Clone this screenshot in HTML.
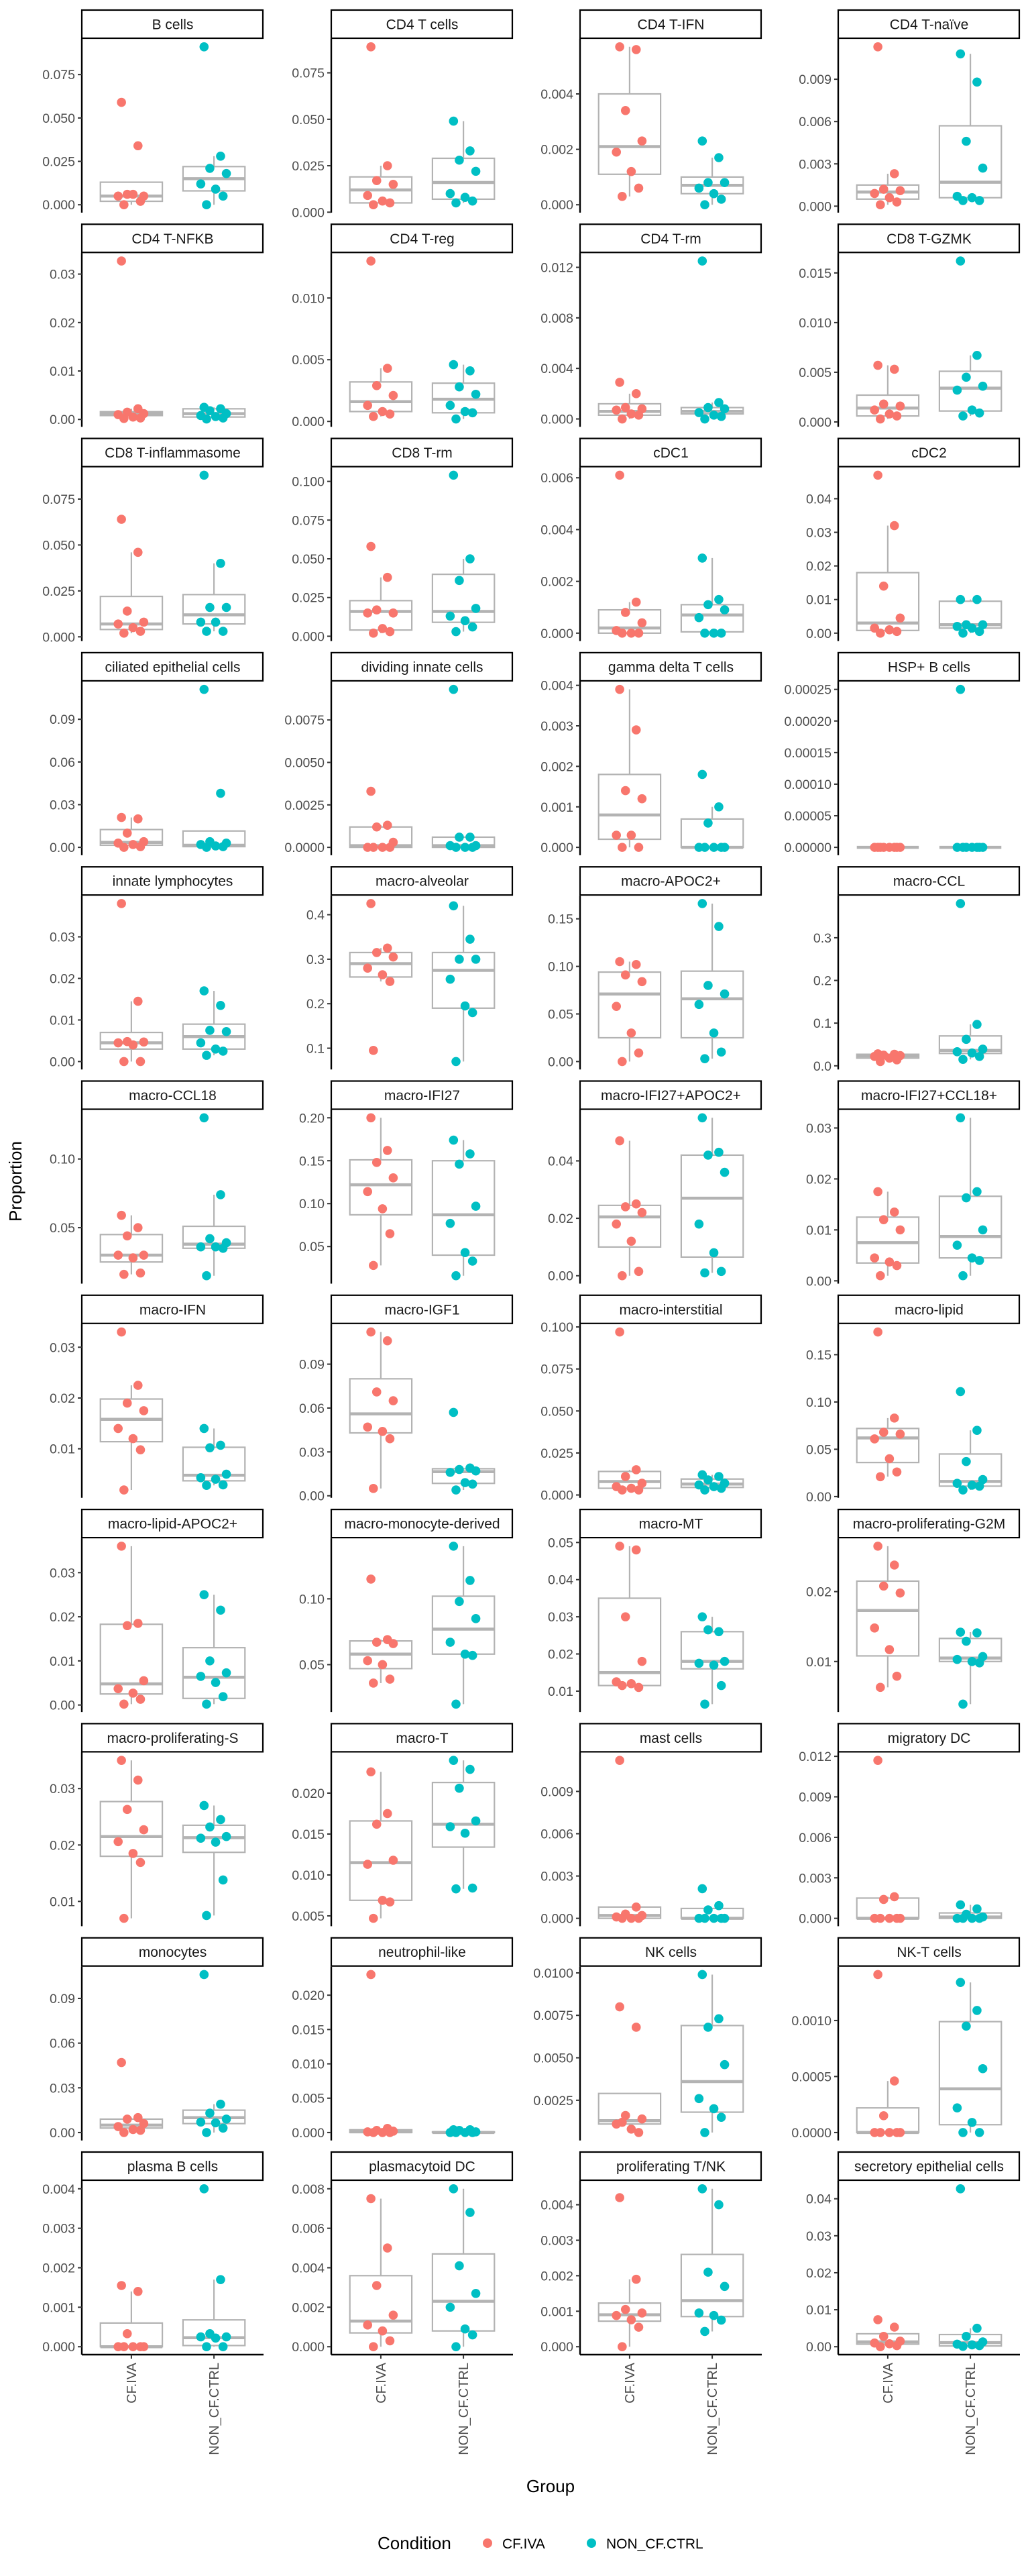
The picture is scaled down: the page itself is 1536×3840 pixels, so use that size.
<!DOCTYPE html>
<html><head><meta charset="utf-8">
<style>
html,body{margin:0;padding:0;background:#fff;}
svg{display:block;font-family:"Liberation Sans",Arial,sans-serif;}
</style></head>
<body>
<svg id="chart" width="1536" height="3840" viewBox="0 0 1536 3840" xmlns="http://www.w3.org/2000/svg">
<rect width="1536" height="3840" fill="#fff"/>
<g id="panels"></g>
<text x="0" y="0" transform="translate(32,1761) rotate(-90)" text-anchor="middle" font-size="26" fill="#000">Proportion</text>
<text x="821" y="3715" text-anchor="middle" font-size="26" fill="#000">Group</text>
<g>
<text x="563" y="3800" font-size="26" fill="#000">Condition</text>
<circle cx="727" cy="3791" r="7" fill="#F8766D"/>
<text x="749" y="3799" font-size="21" fill="#000">CF.IVA</text>
<circle cx="882" cy="3791" r="7" fill="#00BFC4"/>
<text x="904" y="3799" font-size="21" fill="#000">NON_CF.CTRL</text>
</g>
</svg>
<script>
const panelNames = ["B cells","CD4 T cells","CD4 T-IFN","CD4 T-naïve","CD4 T-NFKB","CD4 T-reg","CD4 T-rm","CD8 T-GZMK","CD8 T-inflammasome","CD8 T-rm","cDC1","cDC2","ciliated epithelial cells","dividing innate cells","gamma delta T cells","HSP+ B cells","innate lymphocytes","macro-alveolar","macro-APOC2+","macro-CCL","macro-CCL18","macro-IFI27","macro-IFI27+APOC2+","macro-IFI27+CCL18+","macro-IFN","macro-IGF1","macro-interstitial","macro-lipid","macro-lipid-APOC2+","macro-monocyte-derived","macro-MT","macro-proliferating-G2M","macro-proliferating-S","macro-T","mast cells","migratory DC","monocytes","neutrophil-like","NK cells","NK-T cells","plasma B cells","plasmacytoid DC","proliferating T/NK","secretory epithelial cells"];
const groups = ["CF.IVA","NON_CF.CTRL"];
const tickValues = [
[0,.025,.05,.075],[0,.025,.05,.075],[0,.002,.004],[0,.003,.006,.009],
[0,.01,.02,.03],[0,.005,.010],[0,.004,.008,.012],[0,.005,.010,.015],
[0,.025,.05,.075],[0,.025,.05,.075,.1],[0,.002,.004,.006],[0,.01,.02,.03,.04],
[0,.03,.06,.09],[0,.0025,.005,.0075],[0,.001,.002,.003,.004],[0,.00005,.0001,.00015,.0002,.00025],
[0,.01,.02,.03],[.1,.2,.3,.4],[0,.05,.1,.15],[0,.1,.2,.3],
[.05,.10],[.05,.10,.15,.20],[0,.02,.04],[0,.01,.02,.03],
[.01,.02,.03],[0,.03,.06,.09],[0,.025,.05,.075,.1],[0,.05,.1,.15],
[0,.01,.02,.03],[.05,.10],[.01,.02,.03,.04,.05],[.01,.02],
[.01,.02,.03],[.005,.010,.015,.020],[0,.003,.006,.009],[0,.003,.006,.009,.012],
[0,.03,.06,.09],[0,.005,.01,.015,.02],[.0025,.005,.0075,.01],[0,.0005,.001],
[0,.001,.002,.003,.004],[0,.002,.004,.006,.008],[0,.001,.002,.003,.004],[0,.01,.02,.03,.04]];
const tickDecimals = [3,3,3,3, 2,3,3,3, 3,3,3,2, 2,4,3,5, 2,1,2,1, 2,2,2,2, 2,2,3,2, 2,2,2,2, 2,3,3,3, 2,3,4,4, 3,3,3,2];
const cfValues = [
[.059,.034,.006,.005,.005,.006,.002,0],
[.089,.025,.017,.015,.009,.006,.005,.004],
[.0057,.0056,.0034,.0023,.0019,.0012,.0006,.0003],
[.0113,.0023,.0012,.0011,.0009,.0006,.0003,.0001],
[.0327,.0022,.0015,.0012,.0010,.0005,.0003,.0002],
[.013,.0043,.0029,.0021,.0013,.0008,.0006,.0004],
[.0029,.0020,.0009,.0008,.0007,.0004,.0003,0],
[.0057,.0053,.0018,.0016,.0012,.0008,.0006,.0003],
[.064,.046,.014,.008,.007,.005,.003,.002],
[.058,.038,.017,.015,.015,.005,.003,.002],
[.0061,.0012,.0008,.0004,.0001,0,0,0],
[.047,.032,.014,.0045,.0015,.001,.0005,0],
[.021,.020,.010,.004,.003,.002,.0005,0],
[.0033,.0013,.0012,.0003,0,0,0,0],
[.0039,.0029,.0014,.0012,.0003,.0003,0,0],
[0,0,0,0,0,0,0,0],
[.038,.0145,.0048,.0047,.0045,.004,0,0],
[.425,.325,.315,.305,.28,.265,.25,.095],
[.105,.102,.091,.084,.058,.030,.009,0],
[.028,.027,.025,.024,.022,.018,.014,.010],
[.059,.050,.044,.030,.030,.028,.017,.016],
[.200,.162,.148,.130,.114,.094,.065,.028],
[.047,.025,.024,.022,.018,.012,.0015,0],
[.0175,.0135,.012,.010,.0045,.0037,.003,.001],
[.033,.0225,.019,.0175,.014,.012,.0098,.0019],
[.112,.106,.071,.065,.047,.044,.039,.005],
[.097,.015,.011,.007,.005,.004,.003,.003],
[.174,.083,.068,.066,.061,.040,.026,.021],
[.036,.0185,.018,.0055,.0037,.0027,.0013,.0002],
[.115,.069,.067,.066,.053,.050,.039,.036],
[.049,.048,.030,.018,.0125,.012,.011,.0115],
[.0265,.0238,.0208,.0198,.0148,.0117,.0079,.0063],
[.035,.0315,.0263,.0227,.0206,.0185,.0169,.007],
[.0226,.0175,.0162,.0118,.0113,.0069,.0067,.0047],
[.0112,.0008,.0003,.0002,.0001,0,0,0],
[.0117,.0016,.0014,0,0,0,0,0],
[.047,.010,.009,.006,.004,.002,.0015,0],
[.023,.0006,.0003,.0002,.0001,0,0,0],
[.0080,.0068,.0016,.0014,.0011,.0008,.0006,.0012],
[.00141,.00046,.00015,0,0,0,0,0],
[.00155,.0014,.00033,0,0,0,0,0],
[.0075,.0050,.0031,.0016,.0011,.0008,.0003,0],
[.0042,.0019,.00105,.00095,.00088,.00076,.00055,0],
[.0073,.0053,.0028,.0015,.001,.0008,.0003,0]];
const ctrlValues = [
[.091,.028,.021,.018,.012,.009,.005,0],
[.049,.033,.028,.022,.010,.008,.006,.005],
[.0023,.0017,.0008,.0008,.0006,.0004,.0002,0],
[.0108,.0088,.0046,.0027,.0007,.0006,.0004,.0004],
[.0025,.0022,.0018,.0012,.0008,.0006,.0003,.0001],
[.0046,.0041,.0028,.0022,.0013,.0008,.0007,.0002],
[.0125,.0013,.0009,.0008,.0005,.0003,.0002,0],
[.0162,.0067,.0045,.0036,.0032,.0012,.0009,.0006],
[.088,.040,.016,.016,.008,.008,.003,.003],
[.104,.050,.036,.018,.013,.010,.006,.003],
[.0029,.0013,.0011,.0009,.0006,0,0,0],
[.010,.010,.0025,.0025,.002,.0015,.0005,0],
[.111,.038,.004,.003,.002,.001,.0005,0],
[.0093,.0006,.0006,.0001,.0001,0,0,0],
[.0018,.0010,.0006,0,0,0,0,0],
[.00025,0,0,0,0,0,0,0],
[.017,.0135,.0075,.0072,.0045,.003,.0025,.0015],
[.42,.345,.30,.30,.255,.195,.18,.07],
[.166,.142,.080,.071,.060,.030,.010,.003],
[.38,.097,.062,.039,.033,.030,.022,.015],
[.13,.074,.042,.039,.036,.036,.035,.015],
[.174,.158,.146,.097,.077,.043,.033,.016],
[.055,.043,.042,.036,.018,.008,.0015,.001],
[.032,.0175,.0163,.010,.007,.0045,.004,.001],
[.014,.0107,.0102,.005,.0043,.004,.0029,.0028],
[.057,.019,.018,.017,.016,.009,.008,.004],
[.012,.011,.009,.007,.006,.005,.004,.003],
[.111,.070,.037,.018,.014,.012,.011,.007],
[.025,.0215,.010,.0073,.0065,.0051,.0019,.0002],
[.140,.114,.098,.085,.067,.058,.057,.020],
[.030,.026,.0265,.018,.0175,.017,.0115,.0065],
[.0142,.0141,.0129,.0107,.0103,.0100,.0098,.0039],
[.027,.0245,.0232,.0215,.0212,.0205,.0138,.0075],
[.024,.0229,.0206,.0166,.0159,.0151,.0084,.0083],
[.0021,.0009,.0006,0,0,0,0,0],
[.001,.0007,.0003,.0001,0,0,0,0],
[.106,.019,.013,.009,.007,.0065,.003,0],
[.0004,.0004,.0003,.0001,0,0,0,0],
[.0099,.0073,.0068,.0046,.0026,.0020,.0015,.0006],
[.00134,.00109,.00095,.00057,.00022,.00009,0,0],
[.004,.0017,.00033,.00025,.00025,.00022,0,0],
[.0080,.0068,.0041,.0027,.0020,.0009,.0006,0],
[.00445,.004,.0021,.0017,.00095,.00088,.00075,.00043],
[.0427,.005,.0028,.0013,.0007,.0005,.0003,.0001]];
// box stats: [whisker low, q1, median, q3, whisker high]
const cfBox = [
[0,.002,.005,.013,.013],[.004,.005,.012,.019,.025],[.0003,.0011,.0021,.0040,.0057],[.0001,.0005,.0010,.0015,.0023],
[.0002,.0008,.0012,.0016,.0022],[.0004,.0008,.0016,.0032,.0043],[0,.0003,.0006,.0012,.0020],[.0003,.0006,.0014,.0027,.0057],
[.002,.004,.007,.022,.046],[.002,.004,.016,.023,.038],[0,0,.0002,.0009,.0012],[0,.0008,.003,.018,.032],
[0,.0015,.0035,.0125,.021],[0,0,.0001,.0012,.0013],[0,.0002,.0008,.0018,.0039],[0,0,0,0,0],
[0,.003,.0045,.007,.0145],[.25,.26,.29,.315,.325],[0,.025,.071,.094,.105],[.010,.018,.023,.027,.028],
[.016,.025,.030,.045,.059],[.028,.087,.122,.151,.200],[0,.010,.0205,.0245,.047],[.001,.0035,.0075,.0125,.0175],
[.0019,.0114,.0158,.0198,.0225],[.005,.043,.056,.080,.112],[.003,.004,.008,.014,.015],[.021,.036,.062,.072,.083],
[.0002,.0025,.0048,.0183,.036],[.036,.047,.058,.068,.069],[.011,.0115,.015,.035,.049],[.0063,.0108,.0173,.0215,.0265],
[.007,.018,.0215,.0277,.035],[.0047,.0069,.0115,.0166,.0226],[0,0,.0002,.0008,.0008],[0,0,0,.0015,.0016],
[0,.003,.005,.009,.010],[0,0,.0001,.0004,.0006],[.0006,.0011,.0013,.0029,.0029],[0,0,0,.00022,.00046],
[0,0,0,.0006,.0014],[0,.0007,.0013,.0036,.0075],[0,.00072,.0009,.00123,.0019],[0,.0007,.0013,.0035,.0035]];
const ctrlBox = [
[0,.008,.015,.022,.028],[.005,.007,.016,.029,.049],[0,.0004,.0007,.0010,.0017],[.0004,.0006,.0017,.0057,.0108],
[.0001,.0005,.0012,.0022,.0025],[.0002,.0007,.0018,.0031,.0046],[0,.0004,.0006,.0009,.0013],[.0006,.0011,.0034,.0051,.0067],
[.003,.007,.012,.023,.040],[.003,.009,.016,.040,.050],[0,.00005,.0007,.0011,.0029],[0,.0015,.0025,.0095,.010],
[0,.0005,.0015,.0115,.0115],[0,0,.0001,.0006,.0006],[0,0,0,.0007,.0010],[0,0,0,0,0],
[.0015,.003,.006,.009,.017],[.07,.19,.275,.315,.42],[.003,.025,.066,.095,.166],[.015,.029,.036,.070,.097],
[.015,.035,.038,.051,.074],[.016,.040,.087,.150,.174],[.001,.0065,.027,.042,.055],[.001,.0045,.0087,.0166,.032],
[.0028,.0037,.0048,.0103,.014],[.004,.0085,.0165,.0185,.019],[.003,.0045,.0065,.0095,.012],[.007,.011,.016,.045,.070],
[.0002,.0015,.0063,.013,.025],[.020,.058,.077,.102,.140],[.0065,.016,.018,.026,.030],[.0039,.0100,.0105,.0133,.0142],
[.0075,.0187,.0213,.0235,.027],[.0083,.0134,.0162,.0213,.024],[0,0,0,.0007,.0007],[0,0,.0001,.0004,.001],
[0,.006,.010,.015,.019],[0,0,0,.0001,.0004],[.0006,.0018,.0036,.0069,.0099],[0,.00007,.00039,.00099,.00134],
[0,.00003,.00023,.00068,.0017],[0,.0008,.0023,.0047,.0080],[.00043,.00085,.0013,.0026,.00445],[0,.0002,.0011,.0033,.005]];
const jitterOffsets = [-0.12,0.08,-0.05,0.15,-0.16,0.02,0.11,-0.09];

const NS = "http://www.w3.org/2000/svg";
const colLeft = [122,494,865,1250];
const panelW = 271, stripH = 44, panelH = 259, rowPitch = 319.3, topY = 14;
const colors = ["#F8766D","#00BFC4"];
const root = document.getElementById("panels");
function mk(tag, attrs, parent){
  const e = document.createElementNS(NS, tag);
  for (const k in attrs) e.setAttribute(k, attrs[k]);
  parent.appendChild(e); return e;
}
function slug(s){return s.toLowerCase().replace(/[^a-z0-9]+/g,"-").replace(/^-|-$/g,"");}

panelNames.forEach((name, i) => {
  const col = i % 4, row = Math.floor(i / 4);
  const x0 = colLeft[col], y0 = topY + row * rowPitch;
  const pTop = y0 + stripH, pBot = pTop + panelH;
  const g = mk("g", {}, root);
  
  
  const all = cfValues[i].concat(ctrlValues[i]);
  let mn = Math.min(...all), mx = Math.max(...all);
  if (mx === mn) { mx = mn + 1e-9; }
  const pad = (mx - mn) * 0.05;
  const lo = mn - pad, hi = mx + pad;
  const yS = v => pBot - (v - lo) / (hi - lo) * panelH;
  const xS = k => x0 + (k + 0.6) / 2.2 * panelW;
  // strip
  const strip = mk("rect", {x:x0, y:y0+1, width:panelW-1, height:stripH-2, fill:"#fff", stroke:"#000", "stroke-width":2.2}, g);
  
  
  const st = mk("text", {x:x0+panelW/2, y:y0+stripH/2+7.5, "text-anchor":"middle", "font-size":21, fill:"#1a1a1a"}, g);
  st.textContent = name;
  
  
  // y axis
  const ax = mk("line", {x1:x0, y1:pTop, x2:x0, y2:pBot, stroke:"#000", "stroke-width":2.4}, g);
  
  
  tickValues[i].forEach(t => {
    const y = yS(t);
    if (y < pTop - 1 || y > pBot + 1) return;
    const tl = mk("line", {x1:x0-6, y1:y, x2:x0, y2:y, stroke:"#333", "stroke-width":2}, g);
    
    
    const tx = mk("text", {x:x0-10, y:y+7, "text-anchor":"end", "font-size":19.5, fill:"#4d4d4d"}, g);
    tx.textContent = t.toFixed(tickDecimals[i]);
    
    
  });
  // boxes
  [cfBox[i], ctrlBox[i]].forEach((b, k) => {
    const cx = xS(k), bw = 0.75 / 2.2 * panelW;
    const bg = mk("g", {}, g);
    
    
    mk("line", {x1:cx, y1:yS(b[0]), x2:cx, y2:yS(b[1]), stroke:"#b3b3b3", "stroke-width":2.2}, bg);
    mk("line", {x1:cx, y1:yS(b[3]), x2:cx, y2:yS(b[4]), stroke:"#b3b3b3", "stroke-width":2.2}, bg);
    mk("rect", {x:cx-bw/2, y:yS(b[3]), width:bw, height:Math.max(0, yS(b[1])-yS(b[3])), fill:"#fff", stroke:"#b3b3b3", "stroke-width":2.2}, bg);
    mk("line", {x1:cx-bw/2, y1:yS(b[2]), x2:cx+bw/2, y2:yS(b[2]), stroke:"#b3b3b3", "stroke-width":4.5}, bg);
  });
  // points
  [cfValues[i], ctrlValues[i]].forEach((vals, k) => {
    vals.forEach((v, j) => {
      const c = mk("circle", {cx:xS(k + jitterOffsets[j % jitterOffsets.length]), cy:yS(v), r:6.8, fill:colors[k]}, g);
      
      
    });
  });
  // bottom x axis
  if (row === 10) {
    const bx = mk("line", {x1:x0, y1:pBot, x2:x0+panelW, y2:pBot, stroke:"#000", "stroke-width":2.4}, g);
    
    
    groups.forEach((gn, k) => {
      const cx = xS(k);
      const tk = mk("line", {x1:cx, y1:pBot, x2:cx, y2:pBot+6, stroke:"#333", "stroke-width":2}, g);
      
      
      const lt = mk("text", {x:0, y:0, transform:"translate(" + (cx+7) + "," + (pBot+12) + ") rotate(-90)", "text-anchor":"end", "font-size":20, fill:"#4d4d4d"}, g);
      lt.textContent = gn;
      
      
    });
  }
});
</script>
</body></html>
